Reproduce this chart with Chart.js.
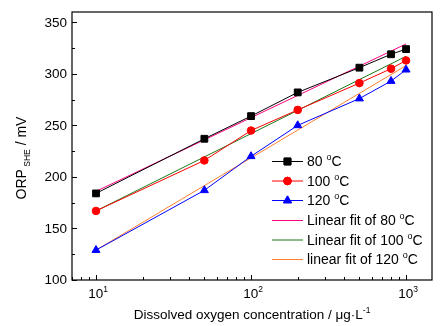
<!DOCTYPE html>
<html>
<head>
  <meta charset="UTF-8" />
  <title>ORP vs dissolved oxygen</title>
  <script src="https://cdn.jsdelivr.net/npm/chart.js"></script>
  <style>
    body { margin: 0; background: #fff; }
    #wrap { width: 447px; height: 326px; }
  </style>
</head>
<body>
  <div id="wrap"><canvas id="grafico" width="447" height="326"></canvas></div>

  <script>
    // dissolved oxygen (ug/L)
    const oxigenio = [10, 50, 100, 200, 500, 800, 1000];
    const orp80  = [184, 237, 259, 282, 306, 319, 324];
    const orp100 = [167, 216, 245, 265, 291, 305, 313];
    const orp120 = [129, 187, 220, 250, 276, 293, 304];

    // linear fits (straight on the log axis), ends at 10 and 1000
    const fitX = [10, 1000];
    const fit80  = [186, 329];
    const fit100 = [167, 317];
    const fit120 = [129, 308];

    const yTicks = [100, 150, 200, 250, 300, 350];
    const xTicks = [10, 100, 1000];
    const xExpoentes = ['1', '2', '3'];

    const legendas = ['80 °C', '100 °C', '120 °C', 'Linear fit of 80 °C', 'Linear fit of 100 °C', 'linear fit of 120 °C'];

    const FONTE = '"Liberation Sans", Arial, sans-serif';

    function pares(xs, ys) {
      return xs.map((x, i) => ({ x: x, y: ys[i] }));
    }

    function serie(nome, ys, cor, ponto, raio, ordem) {
      return {
        label: nome, data: pares(oxigenio, ys), borderColor: cor, backgroundColor: cor,
        borderWidth: 1, pointStyle: ponto, pointRadius: raio, pointBorderWidth: 1,
        tension: 0, order: ordem
      };
    }

    function ajuste(nome, ys, cor, ordem) {
      return {
        label: nome, data: pares(fitX, ys), borderColor: cor, backgroundColor: cor,
        borderWidth: 1, pointRadius: 0, tension: 0, order: ordem
      };
    }

    // texto com trechos sobrescritos / subscritos
    function textoRico(ctx, partes, x, y, alinhar) {
      let total = 0;
      partes.forEach(p => { ctx.font = p.tam + 'px ' + FONTE; total += ctx.measureText(p.t).width; });
      let cx = alinhar === 'center' ? x - total / 2 : x;
      ctx.textAlign = 'left';
      ctx.textBaseline = 'alphabetic';
      partes.forEach(p => {
        ctx.font = p.tam + 'px ' + FONTE;
        ctx.fillText(p.t, cx, y + (p.dy || 0));
        cx += ctx.measureText(p.t).width;
      });
    }

    function partesGrau(txt) {
      // "80 °C" -> "80 " + sup "o" + "C"
      const i = txt.indexOf('°');
      return [
        { t: txt.slice(0, i), tam: 14 },
        { t: 'o', tam: 9, dy: -6 },
        { t: txt.slice(i + 1), tam: 14 }
      ];
    }

    const eixos = {
      id: 'eixos',
      afterDatasetsDraw(chart) {
        const ctx = chart.ctx;
        const a = chart.chartArea;
        const xs = chart.scales.x, ys = chart.scales.y;
        ctx.save();
        ctx.strokeStyle = '#000';
        ctx.fillStyle = '#000';
        ctx.lineWidth = 1.2;
        ctx.strokeRect(a.left, a.top, a.right - a.left, a.bottom - a.top);

        ctx.lineWidth = 1;
        // y ticks (inward)
        for (let v = 100; v <= 350; v += 25) {
          const py = Math.round(ys.getPixelForValue(v)) + 0.5;
          const len = v % 50 === 0 ? 5 : 3;
          ctx.beginPath(); ctx.moveTo(a.left, py); ctx.lineTo(a.left + len, py); ctx.stroke();
        }
        ctx.font = '13.5px ' + FONTE;
        ctx.textAlign = 'right';
        ctx.textBaseline = 'middle';
        yTicks.forEach(v => ctx.fillText(String(v), a.left - 5, ys.getPixelForValue(v) + 0.5));

        // x ticks (inward, log)
        for (let d = 1; d <= 1000; d *= 10) {
          for (let m = 1; m <= 9; m++) {
            const v = d * m;
            if (v < xs.min || v > xs.max) continue;
            const px = Math.round(xs.getPixelForValue(v)) + 0.5;
            const len = m === 1 ? 5 : 3;
            ctx.beginPath(); ctx.moveTo(px, a.bottom); ctx.lineTo(px, a.bottom - len); ctx.stroke();
          }
        }
        xTicks.forEach((v, i) => {
          const px = xs.getPixelForValue(v);
          textoRico(ctx, [{ t: '10', tam: 13.5 }, { t: xExpoentes[i], tam: 8.5, dy: -6 }], px + 2, a.bottom + 18, 'center');
        });

        // x title
        textoRico(ctx, [
          { t: 'Dissolved oxygen concentration / \u03bcg\u00b7L', tam: 13.5 },
          { t: '-1', tam: 8.5, dy: -6 }
        ], 252, 319, 'center');

        // y title
        ctx.translate(26, 158);
        ctx.rotate(-Math.PI / 2);
        textoRico(ctx, [
          { t: 'ORP', tam: 14 },
          { t: ' SHE', tam: 8.5, dy: 4 },
          { t: ' / mV', tam: 14 }
        ], 0, 0, 'center');
        ctx.restore();
      },
      afterDraw(chart) {
        const ctx = chart.ctx;
        const linhas = [161, 180.5, 200, 220, 239.5, 259];
        ctx.save();
        chart.data.datasets.forEach((ds, i) => {
          const y = linhas[i];
          ctx.strokeStyle = ds.borderColor;
          ctx.lineWidth = 1;
          ctx.beginPath(); ctx.moveTo(272, y + 0.5); ctx.lineTo(303, y + 0.5); ctx.stroke();
          if (ds.pointRadius > 0) {
            Chart.helpers.drawPoint(ctx, {
              pointStyle: ds.pointStyle, radius: ds.pointRadius, borderWidth: 1, rotation: 0
            }, 287.5, y + 0.5);
            ctx.fillStyle = ds.backgroundColor;
            ctx.fill();
            ctx.stroke();
          }
          ctx.fillStyle = '#000';
          textoRico(ctx, partesGrau(legendas[i]), 307, y + 5, 'left');
        });
        ctx.restore();
      }
    };

    new Chart(document.getElementById('grafico'), {
      type: 'line',
      data: {
        datasets: [
          serie(legendas[0], orp80, '#000000', 'rect', 4.8, 1),
          serie(legendas[1], orp100, '#ff0000', 'circle', 3.8, 2),
          serie(legendas[2], orp120, '#0000ff', 'triangle', 4.6, 3),
          ajuste(legendas[3], fit80, '#ff0080', 4),
          ajuste(legendas[4], fit100, '#1a7a1a', 5),
          ajuste(legendas[5], fit120, '#ff8030', 6)
        ]
      },
      options: {
        responsive: false,
        animation: false,
        layout: { padding: { left: 72, right: 15, top: 12, bottom: 46 } },
        scales: {
          x: { type: 'logarithmic', min: 7, max: 1470, display: false },
          y: { type: 'linear', min: 100, max: 360, display: false }
        },
        plugins: {
          legend: { display: false },
          tooltip: { enabled: false }
        }
      },
      plugins: [eixos]
    });
  </script>
</body>
</html>
